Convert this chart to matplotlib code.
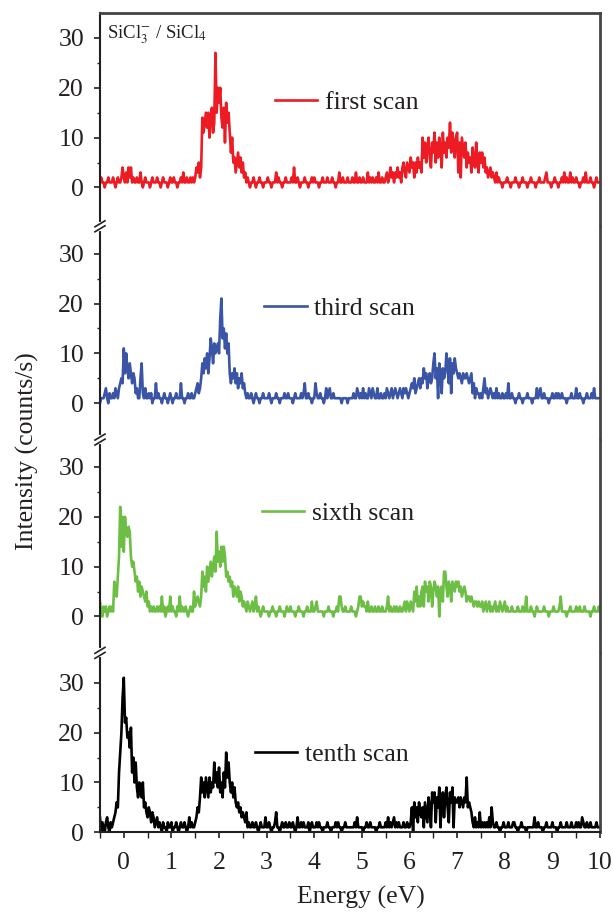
import numpy as np
import matplotlib.pyplot as plt
from matplotlib.ticker import MultipleLocator, FixedLocator
from matplotlib.lines import Line2D

plt.rcParams['font.family'] = 'Liberation Serif'
plt.rcParams['mathtext.fontset'] = 'stix'

# energy grid of the scans (eV)
e_start, e_stop, e_step = -0.5, 10.0, 0.025
energy = np.round(np.arange(e_start, e_stop + e_step / 2, e_step), 3)

# counts/s, 10 values per 0.25 eV
first_scan = [
    1, 2, 1, 1, 0, 1, 1, 2, 1, 1, 1, 2, 1, 0, 1, 2, 1, 1, 2, 4,
    2, 1, 3, 1, 4, 2, 4, 1, 2, 1,
    1, 2, 1, 1, 3, 1, 0, 1, 2, 1,
    1, 1, 0, 1, 2, 1, 1, 1, 2, 1,
    1, 0, 1, 2, 1, 1, 1, 0, 1, 2,
    1, 1, 2, 1, 1, 0, 1, 1, 2, 1,
    3, 1, 1, 2, 1, 1, 2, 1, 2, 1,
    2, 4, 3, 5, 2, 4, 14, 11, 13, 15,
    12, 15, 10, 14, 16, 11, 13, 27, 15, 20,
    17, 20, 14, 12, 16, 9, 17, 13, 15, 11,
    7, 10, 5, 6, 3, 5, 7, 4, 6, 3,
    5, 2, 3, 1, 2, 1, 0, 1, 1, 2,
    1, 0, 1, 1, 2, 1, 1, 0, 1, 1,
    1, 2, 1, 1, 0, 1, 1, 1, 3, 1,
    2, 1, 1, 0, 1, 1, 2, 1, 1, 1,
    1, 2, 1, 4, 1, 1, 2, 1, 0, 1,
    1, 1, 2, 1, 1, 0, 1, 1, 2, 1,
    2, 1, 1, 1, 0, 1, 1, 2, 1, 1,
    1, 2, 1, 1, 1, 2, 1, 1, 0, 1,
    1, 3, 1, 1, 2, 1, 1, 1, 2, 1,
    1, 1, 2, 1, 1, 3, 1, 1, 2, 1,
    1, 2, 1, 1, 1, 3, 1, 2, 1, 2,
    1, 1, 2, 1, 3, 1, 1, 2, 1, 1,
    2, 3, 1, 2, 4, 2, 3, 1, 3, 2,
    4, 2, 3, 1, 4, 5, 3, 2, 5, 4,
    3, 6, 4, 5, 2, 5, 3, 6, 4, 5,
    3, 10, 6, 9, 5, 8, 10, 6, 4, 9,
    7, 11, 5, 9, 6, 10, 8, 4, 11, 7,
    9, 6, 10, 8, 13, 7, 11, 9, 6, 10,
    11, 3, 9, 2, 10, 8, 6, 9, 4, 7,
    5, 6, 3, 8, 5, 4, 9, 5, 3, 7,
    5, 7, 4, 6, 3, 4, 2, 3, 4, 2,
    3, 2, 1, 3, 1, 2, 1, 1, 0, 1,
    1, 1, 2, 1, 1, 0, 1, 1, 1, 2,
    1, 1, 0, 1, 1, 2, 1, 1, 1, 0,
    1, 1, 2, 1, 1, 1, 0, 1, 1, 2,
    1, 1, 1, 1, 2, 3, 1, 1, 1, 0,
    1, 1, 2, 1, 1, 0, 1, 1, 2, 1,
    3, 1, 2, 1, 1, 3, 1, 2, 1, 1,
    2, 1, 1, 0, 1, 1, 2, 1, 3, 1,
    1, 1, 2, 1, 1, 0, 1, 2, 1, 1,
    1,
]

third_scan = [
    0, 1, 1, 1, 2, 3, 1, 0, 2, 1, 1, 2, 1, 3, 2, 1, 3, 4, 5, 4,
    11, 6, 10, 7, 5, 8, 6, 4, 6, 5,
    2, 3, 1, 1, 5, 8, 2, 1, 3, 1,
    1, 2, 1, 2, 0, 1, 1, 4, 1, 2,
    1, 1, 0, 1, 2, 1, 1, 0, 1, 2,
    1, 0, 1, 1, 2, 1, 1, 1, 4, 1,
    1, 0, 1, 1, 2, 1, 1, 2, 1, 1,
    2, 3, 4, 2, 3, 5, 8, 6, 9, 7,
    10, 6, 9, 13, 11, 8, 12, 10, 11, 12,
    10, 17, 21, 13, 15, 11, 14, 10, 12, 6,
    4, 6, 5, 7, 4, 6, 3, 5, 4, 6,
    3, 4, 2, 1, 2, 1, 1, 2, 1, 0,
    1, 2, 1, 1, 0, 1, 1, 2, 1, 1,
    1, 1, 2, 1, 0, 1, 1, 1, 2, 1,
    1, 0, 1, 1, 1, 2, 1, 1, 2, 1,
    1, 1, 0, 1, 2, 1, 1, 1, 1, 2,
    1, 2, 4, 1, 1, 2, 1, 1, 0, 1,
    1, 4, 2, 1, 1, 2, 1, 1, 0, 1,
    3, 1, 2, 3, 1, 1, 2, 1, 1, 1,
    1, 1, 1, 0, 1, 1, 1, 1, 0, 1,
    1, 1, 1, 2, 1, 1, 3, 2, 1, 2,
    1, 3, 1, 2, 1, 1, 3, 2, 1, 3,
    2, 1, 1, 3, 1, 1, 2, 1, 1, 2,
    1, 3, 2, 1, 2, 3, 1, 2, 3, 2,
    1, 2, 3, 2, 1, 3, 2, 3, 2, 1,
    2, 3, 4, 3, 5, 2, 3, 4, 5, 3,
    5, 4, 7, 5, 6, 3, 5, 6, 4, 5,
    8, 10, 5, 7, 1, 8, 6, 2, 7, 5,
    6, 10, 8, 4, 9, 2, 8, 6, 9, 7,
    6, 5, 6, 5, 4, 6, 5, 5, 6, 5,
    4, 5, 6, 2, 4, 1, 3, 2, 2, 1,
    2, 1, 3, 5, 2, 3, 1, 2, 3, 2,
    1, 2, 1, 3, 1, 2, 1, 1, 2, 1,
    1, 2, 1, 4, 1, 1, 2, 1, 1, 0,
    1, 1, 2, 1, 1, 0, 1, 1, 1, 2,
    1, 1, 1, 0, 1, 1, 1, 3, 1, 2,
    3, 1, 1, 2, 1, 1, 1, 0, 1, 1,
    2, 1, 1, 2, 1, 2, 1, 1, 2, 1,
    1, 1, 0, 1, 1, 1, 2, 1, 1, 1,
    3, 1, 1, 2, 1, 1, 0, 1, 1, 2,
    1, 1, 1, 2, 1, 3, 1, 1, 1, 1,
    1,
]

sixth_scan = [
    3, 1, 0, 2, 1, 2, 0, 1, 2, 1, 2, 1, 7, 5, 4, 8, 12, 22, 14, 20,
    13, 20, 17, 16, 18, 17, 12, 10, 11, 9,
    7, 8, 5, 7, 4, 6, 5, 4, 3, 5,
    2, 3, 1, 2, 1, 2, 1, 1, 2, 1,
    2, 1, 4, 1, 2, 0, 1, 2, 1, 4,
    1, 2, 1, 1, 0, 2, 1, 4, 1, 2,
    1, 1, 2, 1, 0, 1, 2, 1, 1, 5,
    2, 3, 4, 3, 2, 4, 9, 6, 8, 5,
    10, 7, 9, 11, 8, 10, 12, 9, 17, 11,
    13, 10, 14, 11, 14, 12, 8, 9, 7, 8,
    6, 7, 4, 6, 5, 4, 6, 3, 5, 4,
    2, 3, 2, 1, 3, 2, 1, 2, 3, 1,
    2, 4, 1, 2, 1, 0, 1, 2, 1, 1,
    1, 1, 0, 1, 1, 2, 1, 1, 0, 1,
    1, 2, 1, 1, 1, 0, 1, 2, 1, 1,
    2, 1, 1, 1, 0, 1, 1, 2, 1, 1,
    1, 0, 1, 1, 2, 1, 1, 1, 3, 1,
    1, 2, 3, 1, 1, 1, 1, 1, 0, 1,
    1, 1, 2, 1, 1, 1, 0, 1, 1, 2,
    1, 4, 4, 2, 1, 1, 2, 1, 1, 1,
    1, 2, 1, 1, 1, 0, 1, 2, 4, 4,
    2, 3, 2, 2, 1, 3, 1, 1, 2, 1,
    1, 2, 1, 1, 2, 1, 1, 2, 1, 1,
    1, 2, 4, 1, 2, 1, 1, 2, 1, 2,
    1, 1, 2, 1, 1, 2, 3, 1, 3, 2,
    1, 3, 2, 1, 5, 3, 6, 2, 4, 2,
    5, 6, 2, 7, 5, 6, 3, 7, 6, 2,
    5, 7, 6, 4, 6, 0, 5, 6, 3, 9,
    9, 6, 4, 7, 6, 3, 7, 6, 5, 7,
    6, 7, 5, 6, 4, 5, 6, 5, 3, 4,
    4, 3, 4, 3, 2, 3, 3, 2, 3, 2,
    2, 3, 1, 2, 3, 1, 2, 3, 1, 2,
    1, 2, 3, 1, 2, 1, 3, 2, 1, 2,
    3, 1, 2, 1, 1, 1, 2, 1, 1, 1,
    1, 2, 1, 1, 1, 2, 1, 1, 4, 1,
    1, 1, 2, 1, 1, 0, 1, 2, 1, 1,
    1, 1, 1, 2, 1, 1, 1, 0, 1, 1,
    1, 2, 1, 1, 1, 1, 2, 4, 1, 1,
    1, 1, 0, 1, 1, 2, 1, 1, 1, 1,
    2, 1, 1, 2, 1, 1, 1, 2, 1, 1,
    1, 1, 0, 1, 1, 2, 1, 1, 1, 2,
    1,
]

tenth_scan = [
    3, 0, 2, 1, 0, 2, 3, 1, 0, 2, 1, 2, 3, 4, 6, 5, 12, 16, 20, 27,
    31, 22, 23, 19, 20, 17, 21, 12, 15, 10,
    14, 9, 7, 10, 8, 7, 10, 5, 6, 4,
    3, 5, 4, 2, 4, 3, 1, 2, 3, 1,
    2, 1, 0, 2, 1, 1, 0, 2, 1, 1,
    2, 0, 1, 1, 2, 1, 0, 1, 2, 1,
    1, 2, 1, 0, 1, 3, 1, 2, 1, 1,
    2, 3, 5, 4, 7, 11, 8, 10, 7, 11,
    9, 7, 11, 8, 10, 9, 14, 10, 12, 9,
    13, 8, 10, 7, 12, 9, 16, 11, 14, 10,
    8, 10, 7, 9, 6, 5, 6, 4, 5, 3,
    4, 3, 2, 4, 1, 2, 1, 1, 2, 1,
    1, 2, 1, 0, 1, 2, 1, 1, 1, 3,
    1, 1, 2, 1, 0, 1, 1, 2, 4, 1,
    1, 0, 1, 2, 1, 1, 2, 1, 1, 2,
    1, 1, 2, 1, 0, 1, 3, 1, 1, 2,
    1, 2, 1, 1, 1, 2, 0, 1, 2, 1,
    1, 1, 2, 1, 2, 1, 1, 0, 1, 1,
    1, 2, 1, 1, 0, 1, 1, 1, 2, 1,
    2, 1, 1, 0, 1, 1, 2, 1, 1, 1,
    1, 1, 1, 1, 2, 1, 3, 1, 1, 1,
    1, 0, 1, 1, 2, 1, 1, 2, 1, 1,
    1, 1, 0, 1, 1, 2, 1, 1, 1, 1,
    2, 1, 3, 1, 2, 1, 2, 3, 1, 2,
    1, 2, 1, 1, 1, 2, 1, 1, 2, 1,
    1, 2, 5, 0, 6, 3, 5, 2, 6, 4,
    3, 5, 1, 6, 4, 2, 7, 5, 1, 8,
    6, 8, 2, 7, 5, 9, 1, 6, 8, 3,
    7, 9, 5, 2, 8, 6, 9, 1, 7, 6,
    6, 7, 5, 7, 6, 5, 7, 6, 11, 5,
    6, 5, 4, 2, 1, 3, 1, 2, 1, 4,
    1, 2, 1, 2, 1, 2, 1, 3, 1, 5,
    2, 1, 1, 2, 1, 1, 0, 1, 1, 2,
    1, 1, 1, 2, 1, 1, 1, 2, 2, 1,
    1, 0, 1, 1, 2, 1, 1, 1, 0, 1,
    1, 1, 1, 1, 1, 3, 1, 1, 2, 1,
    1, 1, 0, 1, 1, 2, 1, 1, 1, 1,
    2, 1, 1, 1, 0, 1, 1, 2, 1, 1,
    1, 1, 2, 1, 1, 1, 2, 1, 1, 1,
    2, 1, 2, 1, 1, 3, 2, 1, 1, 2,
    1, 1, 2, 1, 1, 1, 1, 2, 1, 1,
    1,
]

scans = [first_scan, third_scan, sixth_scan, tenth_scan]
labels = ['first scan', 'third scan', 'sixth scan', 'tenth scan']
colors = ['#ED1C24', '#3A55A5', '#6CBE45', '#000000']
legend_pos = [(3.17, 17.1), (2.95, 19.0), (2.90, 20.7), (2.75, 15.7)]
ylims = [(-7.8, 35), (-7.3, 35.5), (-7.3, 35.5), (0, 36)]

ink = '#231F20'
fs = 18.5
fig = plt.figure(figsize=(6.13, 9.16), dpi=100)
gs = fig.add_gridspec(4, 1, height_ratios=[42.8, 42.8, 42.8, 36], hspace=0,
                      left=0.1631, right=0.9788, top=0.9858, bottom=0.0914)
axes = [fig.add_subplot(gs[i]) for i in range(4)]

for i, ax in enumerate(axes):
    assert len(scans[i]) == len(energy), (labels[i], len(scans[i]))
    ax.plot(energy, scans[i], color=colors[i], lw=1.9, label=labels[i])
    ax.set_xlim(-0.5, 10)
    ax.set_ylim(*ylims[i])
    ax.set_yticks([0, 10, 20, 30])
    ax.yaxis.set_minor_locator(FixedLocator([5, 15, 25]))
    ax.tick_params(axis='y', which='major', direction='out', length=4.5, width=1.2,
                   pad=7, labelsize=fs, colors=ink)
    ax.tick_params(axis='y', which='minor', direction='out', length=2.5, width=1.0, colors=ink)
    ax.spines['left'].set_color(ink)
    ax.spines['left'].set_linewidth(1.5)
    ax.spines['right'].set_color('#444444')
    ax.spines['right'].set_linewidth(2)
    ax.spines['top'].set_visible(i == 0)
    ax.spines['top'].set_color('#444444')
    ax.spines['top'].set_linewidth(2)
    ax.spines['bottom'].set_visible(i == 3)
    ax.spines['bottom'].set_color(ink)
    ax.spines['bottom'].set_linewidth(1.5)
    if i < 3:
        ax.tick_params(axis='x', which='both', bottom=False, labelbottom=False)
    else:
        ax.xaxis.set_major_locator(MultipleLocator(1))
        ax.xaxis.set_minor_locator(MultipleLocator(0.5))
        ax.tick_params(axis='x', which='major', direction='out', length=4.5, width=1.2,
                       pad=10, labelsize=fs, colors=ink)
        ax.tick_params(axis='x', which='minor', direction='out', length=4.5, width=1.0, colors=ink)
    ax.legend(loc='center left', bbox_to_anchor=legend_pos[i], bbox_transform=ax.transData,
              frameon=False, borderpad=0, borderaxespad=0, handlelength=1.65,
              handletextpad=0.3, fontsize=fs, labelcolor=ink)

axes[0].text(-0.36, 29.9, r'SiCl$_3^{-}$ / SiCl$_4$', fontsize=13.5, va='baseline', color=ink)

# axis break marks on the left spine between panels
x0 = axes[0].get_position().x0
dx, dy, gap = 5 / 613, 3 / 916, 5 / 916
for ax in axes[1:]:
    yb = ax.get_position().y1
    fig.add_artist(Line2D([x0, x0], [yb - gap / 2, yb + gap / 2], color='white', lw=3))
    for off in (-gap / 2, gap / 2):
        fig.add_artist(Line2D([x0 - dx, x0 + dx], [yb + off - dy, yb + off + dy],
                              color=ink, lw=1.2))

fig.text(27 / 613, 1 - 451 / 916, 'Intensity (counts/s)', rotation=90,
         ha='center', va='center', fontsize=fs, color=ink)
fig.text(361 / 613, 1 - 897 / 916, 'Energy (eV)', ha='center', va='center',
         fontsize=fs, color=ink)

fig.savefig('out.png', dpi=100)
